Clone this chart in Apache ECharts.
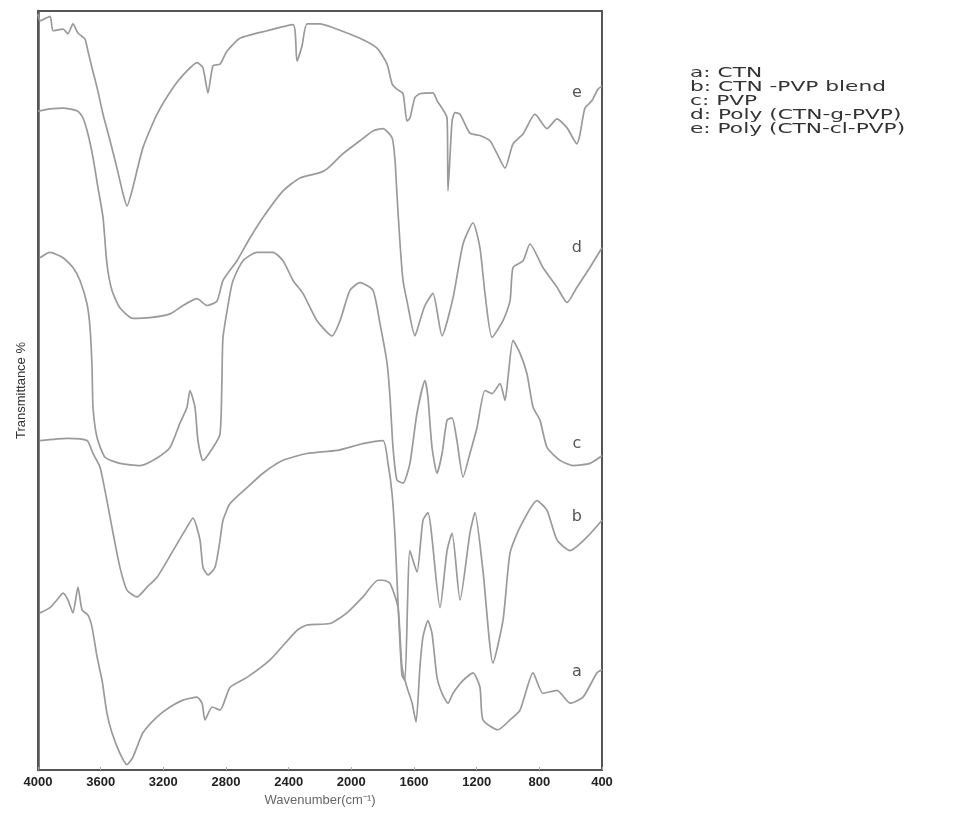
<!DOCTYPE html>
<html>
<head>
<meta charset="utf-8">
<script src="https://cdn.jsdelivr.net/npm/echarts@6/dist/echarts.min.js"></script>
<style>
  html, body { margin: 0; padding: 0; background: #fff; }
  #ftir { width: 963px; height: 816px; }
</style>
</head>
<body>
<div id="ftir"></div>
<script>
// 谱线数据 [波数 cm-1, 透过率 (任意单位, 按图上高度读取)]
const curveA = [
  [3987, 20.7], [3923, 21.4], [3879, 22.4], [3840, 23.3], [3809, 22.4], [3777, 20.7],
  [3745, 24.1], [3719, 21.1], [3681, 20.4], [3655, 18.8], [3623, 14.9], [3591, 11.8],
  [3560, 7.5], [3528, 4.9], [3477, 2.2], [3432, 0.7], [3394, 1.7], [3330, 4.9],
  [3240, 7.0], [3157, 8.3], [3074, 9.2], [2985, 9.6], [2953, 8.8], [2934, 6.6],
  [2889, 8.3], [2838, 7.9], [2774, 10.9], [2666, 12.2], [2519, 14.5], [2347, 18.4],
  [2283, 19.1], [2136, 19.3], [2028, 20.7], [1926, 22.8], [1830, 25.0], [1798, 25.0],
  [1753, 24.6], [1702, 21.4], [1677, 13.6], [1645, 10.9], [1613, 8.9], [1587, 6.3],
  [1562, 13.6], [1543, 17.5], [1511, 19.7], [1485, 18.0], [1453, 12.2], [1421, 10.1],
  [1383, 8.8], [1351, 10.1], [1287, 11.8], [1223, 12.8], [1179, 10.9], [1160, 6.6],
  [1064, 5.3], [987, 6.6], [923, 7.9], [840, 12.8], [777, 10.1], [687, 10.5],
  [604, 8.8], [521, 9.6], [432, 12.8], [400, 13.2]
];
const curveB = [
  [3987, 43.4], [3815, 43.7], [3687, 43.4], [3649, 41.7], [3604, 39.9], [3560, 35.5],
  [3521, 31.2], [3477, 26.7], [3432, 23.7], [3368, 22.8], [3304, 24.1], [3240, 25.4],
  [3138, 28.9], [3049, 32.0], [3011, 33.2], [2966, 30.3], [2947, 26.7], [2915, 25.7],
  [2870, 26.7], [2838, 30.3], [2819, 32.9], [2774, 35.1], [2666, 37.2], [2564, 39.1],
  [2436, 40.8], [2283, 41.7], [2091, 42.1], [1926, 43.0], [1798, 43.4], [1766, 40.4],
  [1740, 36.4], [1721, 30.7], [1702, 22.0], [1677, 12.5], [1658, 11.8], [1626, 28.9],
  [1581, 26.1], [1543, 32.9], [1511, 33.9], [1434, 21.4], [1389, 28.9], [1357, 31.2],
  [1306, 22.4], [1243, 31.2], [1211, 33.9], [1160, 26.3], [1096, 14.1], [1032, 19.7],
  [987, 28.6], [923, 32.0], [815, 35.5], [751, 34.2], [687, 30.3], [604, 28.9],
  [495, 30.7], [400, 32.9]
];
const curveC = [
  [3987, 67.5], [3923, 68.2], [3840, 67.5], [3777, 66.2], [3732, 64.5], [3687, 61.4],
  [3668, 58.3], [3655, 53.0], [3649, 47.8], [3623, 43.8], [3572, 41.2], [3477, 40.4],
  [3349, 40.1], [3240, 41.1], [3157, 42.5], [3094, 45.7], [3049, 47.8], [3030, 50.0],
  [2998, 47.8], [2979, 43.4], [2947, 40.8], [2883, 42.5], [2838, 44.3], [2826, 51.3],
  [2819, 57.0], [2774, 62.8], [2755, 64.5], [2691, 67.1], [2602, 68.2], [2500, 68.2],
  [2436, 67.1], [2372, 64.5], [2309, 62.8], [2219, 59.2], [2123, 57.2], [2072, 59.2],
  [2009, 63.2], [1945, 64.2], [1862, 63.2], [1817, 58.8], [1772, 53.6], [1753, 49.1],
  [1734, 42.5], [1709, 38.2], [1670, 37.8], [1626, 40.4], [1581, 47.0], [1530, 51.3],
  [1511, 49.1], [1485, 42.5], [1453, 39.1], [1421, 41.7], [1389, 46.1], [1357, 46.4],
  [1326, 43.4], [1287, 38.6], [1243, 41.7], [1198, 45.1], [1147, 50.0], [1102, 49.6],
  [1051, 50.9], [1019, 48.7], [1000, 51.7], [968, 56.6], [923, 54.9], [879, 52.2],
  [840, 47.8], [796, 46.1], [751, 42.5], [668, 40.8], [585, 40.1], [477, 40.4], [400, 41.4]
];
const curveD = [
  [4000, 86.8], [3923, 87.1], [3840, 87.2], [3745, 86.8], [3713, 85.9], [3681, 83.8],
  [3649, 80.7], [3617, 76.7], [3585, 72.8], [3560, 66.7], [3528, 63.2], [3477, 60.9],
  [3394, 59.5], [3285, 59.6], [3157, 60.1], [3074, 61.2], [2985, 62.1], [2921, 61.2],
  [2857, 61.8], [2819, 64.5], [2730, 67.1], [2647, 70.1], [2564, 72.8], [2436, 76.3],
  [2328, 78.0], [2200, 78.7], [2155, 79.2], [2053, 81.2], [1945, 82.9], [1862, 84.2],
  [1798, 84.5], [1740, 83.3], [1721, 80.3], [1709, 75.9], [1689, 69.3], [1670, 64.5],
  [1645, 61.8], [1594, 57.2], [1562, 59.2], [1530, 61.2], [1479, 62.8], [1421, 57.2],
  [1351, 62.2], [1287, 69.3], [1223, 72.1], [1179, 68.8], [1147, 62.8], [1102, 57.0],
  [1032, 59.2], [987, 61.8], [968, 66.2], [904, 67.1], [860, 69.3], [777, 66.2],
  [687, 63.6], [623, 61.6], [560, 63.6], [477, 66.2], [400, 68.8]
];
const curveE = [
  [4000, 99.6], [3987, 98.7], [3923, 99.3], [3904, 97.4], [3840, 97.6], [3809, 97.0],
  [3777, 98.3], [3745, 97.1], [3700, 96.3], [3681, 94.7], [3655, 92.5], [3623, 89.9],
  [3585, 86.4], [3540, 82.9], [3496, 79.3], [3457, 75.9], [3432, 74.3], [3400, 76.3],
  [3330, 82.0], [3240, 86.4], [3138, 89.9], [3049, 92.1], [2985, 93.2], [2947, 92.5],
  [2915, 89.2], [2883, 92.8], [2838, 93.0], [2794, 94.7], [2711, 96.4], [2538, 97.4],
  [2372, 98.2], [2347, 93.4], [2315, 95.4], [2283, 98.3], [2200, 98.3], [2117, 97.8],
  [1945, 96.4], [1836, 95.1], [1772, 93.0], [1740, 90.4], [1709, 89.7], [1670, 89.1],
  [1645, 85.5], [1626, 85.9], [1594, 88.6], [1562, 89.1], [1479, 89.2], [1453, 88.2],
  [1389, 85.9], [1383, 76.3], [1357, 85.5], [1338, 86.6], [1306, 86.4], [1243, 83.9],
  [1179, 83.6], [1115, 82.9], [1070, 81.2], [1019, 79.3], [968, 82.5], [904, 83.8],
  [828, 86.4], [751, 84.5], [687, 85.8], [623, 84.6], [560, 82.5], [540, 83.8],
  [509, 87.2], [464, 88.2], [426, 89.7], [400, 90.1]
];

// 图例名称与曲线上的字母
const sampleNames = ['a: CTN', 'b: CTN -PVP blend', 'c: PVP', 'd: Poly (CTN-g-PVP)', 'e: Poly (CTN-cl-PVP)'];
const curveLetters = ['a', 'b', 'c', 'd', 'e'];
const letterSpots = [[560, 12.9], [560, 33.3], [560, 43.0], [560, 68.8], [560, 89.2]];
const curves = [curveA, curveB, curveC, curveD, curveE];

const xTicks = [4000, 3600, 3200, 2800, 2400, 2000, 1600, 1200, 800, 400];

let chart = echarts.init(document.getElementById('ftir'));

let series = curves.map((data, i) => ({
  name: sampleNames[i],
  type: 'line',
  data: data,
  showSymbol: false,
  symbol: 'none',
  smooth: 0.2,
  lineStyle: { color: '#9a9a9a', width: 1.7 },
  itemStyle: { color: '#9a9a9a' },
  animation: false,
  markPoint: {
    symbol: 'circle',
    symbolSize: 0,
    silent: true,
    label: {
      show: true,
      position: 'inside',
      formatter: curveLetters[i],
      color: '#555',
      fontSize: 16,
      fontFamily: 'DejaVu Sans'
    },
    data: [{ coord: letterSpots[i] }]
  }
}));

// 右侧样品说明（原图文字横向拉宽）
let notes = sampleNames.map((name, i) => ({
  type: 'text',
  left: 0,
  top: i * 14,
  style: {
    text: name,
    fill: '#333',
    font: '14px "DejaVu Sans"'
  }
}));

let option = {
  backgroundColor: '#fff',
  animation: false,
  grid: {
    left: 38,
    right: 361,
    top: 11,
    bottom: 46,
    show: true,
    borderColor: '#555',
    borderWidth: 2,
    containLabel: false
  },
  graphic: [{
    type: 'group',
    x: 690,
    y: 66,
    scaleX: 1.55,
    children: notes
  }],
  xAxis: {
    type: 'value',
    inverse: true,
    min: 400,
    max: 4000,
    interval: 400,
    name: 'Wavenumber(cm\u207B\u00B9)',
    nameLocation: 'middle',
    nameGap: 24,
    nameTextStyle: { color: '#666', fontSize: 13, fontFamily: 'Liberation Sans' },
    axisLine: { show: true, lineStyle: { color: '#555', width: 2 } },
    axisTick: { show: true, inside: true, length: 3, lineStyle: { color: '#aaa' } },
    axisLabel: {
      color: '#222',
      fontSize: 13,
      fontWeight: 'bold',
      fontFamily: 'Liberation Sans',
      margin: 6,
      formatter: v => (xTicks.indexOf(v) !== -1 ? String(v) : '')
    },
    splitLine: { show: false }
  },
  yAxis: {
    type: 'value',
    min: 0,
    max: 100,
    name: 'Transmittance %',
    nameLocation: 'middle',
    nameGap: 10,
    nameTextStyle: { color: '#333', fontSize: 13, fontFamily: 'Liberation Sans' },
    axisLine: { show: true, lineStyle: { color: '#555', width: 2.5 } },
    axisTick: { show: false },
    axisLabel: { show: false },
    splitLine: { show: false }
  },
  series: series
};

chart.setOption(option);
</script>
</body>
</html>
